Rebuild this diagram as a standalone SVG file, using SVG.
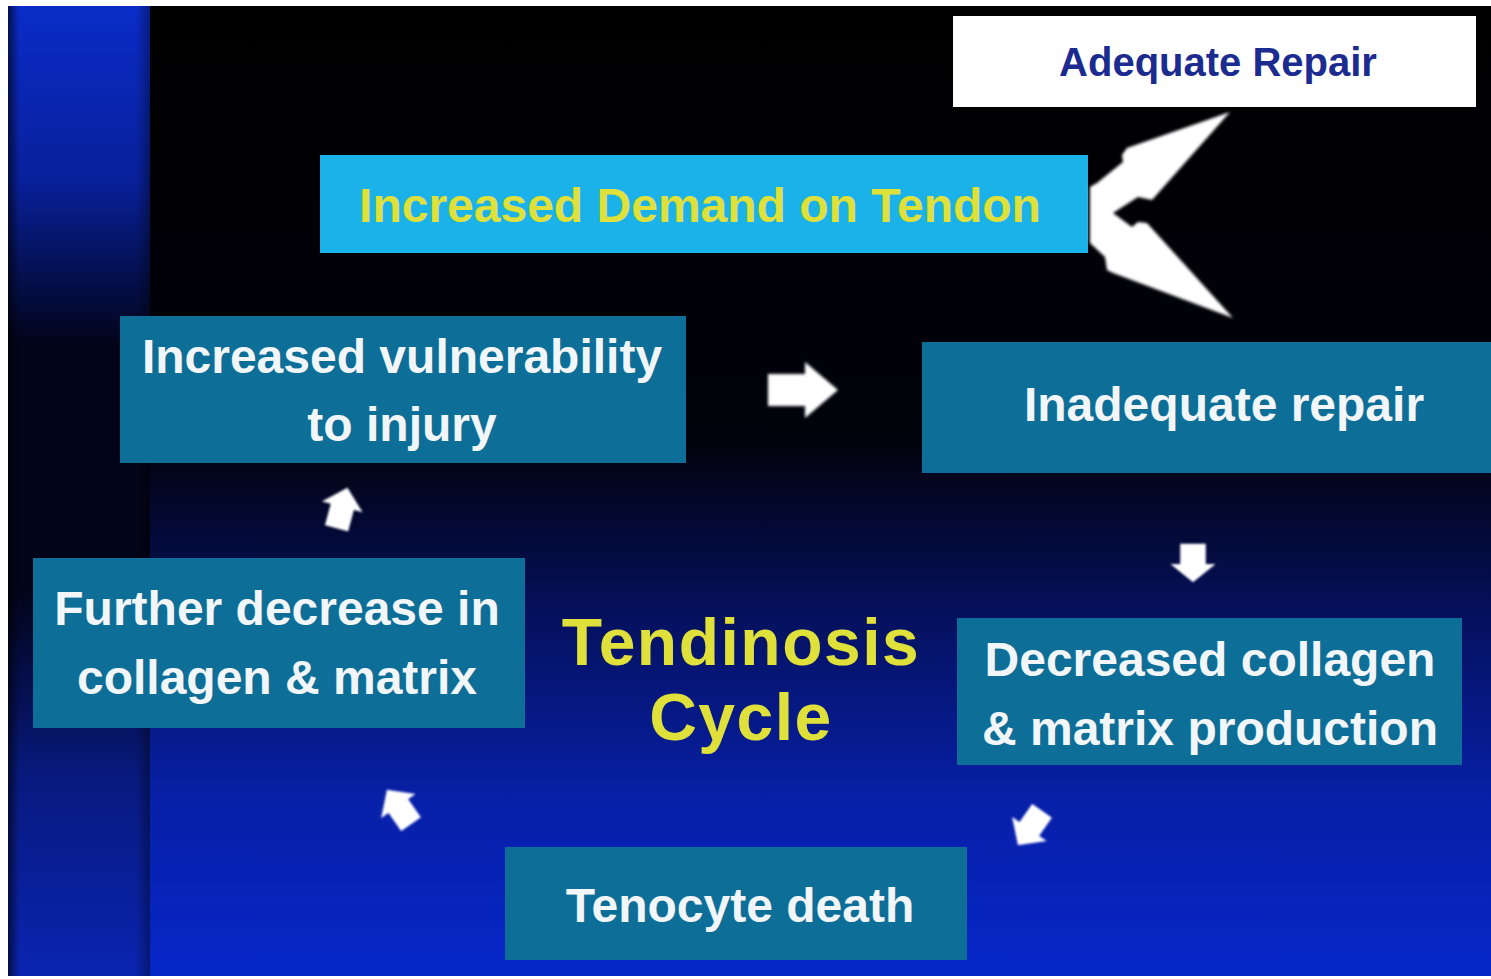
<svg xmlns="http://www.w3.org/2000/svg" width="1491" height="979" viewBox="0 0 1491 979">
  <defs>
    <linearGradient id="bgMain" x1="0" y1="0" x2="0" y2="1">
      <stop offset="0" stop-color="#000000"/>
      <stop offset="0.45" stop-color="#02020c"/>
      <stop offset="0.62" stop-color="#05105a"/>
      <stop offset="0.82" stop-color="#0720a8"/>
      <stop offset="1" stop-color="#0626c8"/>
    </linearGradient>
    <linearGradient id="bgStripe" x1="0" y1="0" x2="0" y2="1">
      <stop offset="0" stop-color="#0a2cc8"/>
      <stop offset="0.18" stop-color="#08209a"/>
      <stop offset="0.35" stop-color="#020418"/>
      <stop offset="0.6" stop-color="#020418"/>
      <stop offset="0.8" stop-color="#081a80"/>
      <stop offset="1" stop-color="#0a24b0"/>
    </linearGradient>
    <linearGradient id="stripeEdge" x1="0" y1="0" x2="1" y2="0">
      <stop offset="0" stop-color="#000000" stop-opacity="0.6"/>
      <stop offset="0.08" stop-color="#000000" stop-opacity="0"/>
      <stop offset="0.9" stop-color="#000000" stop-opacity="0"/>
      <stop offset="1" stop-color="#000000" stop-opacity="0.35"/>
    </linearGradient>
    <filter id="soft" x="-20%" y="-20%" width="140%" height="140%">
      <feGaussianBlur stdDeviation="1.6"/>
    </filter>
    <path id="blockArrow" d="M-35,-16 L2,-16 L2,-28 L35,0 L2,28 L2,16 L-35,16 Z"/>
  </defs>
  <style>
    .box { fill: #0d6e98; }
    .label { font-family: "Liberation Sans", Arial, sans-serif; font-weight: bold; fill: #f2f6f8; text-anchor: middle; }
    .big { font-size: 48px; }
    .yellow { fill: #e0e03a; }
    .title { font-size: 66px; letter-spacing: 1.5px; }
    .arrow { fill: #ffffff; filter: url(#soft); }
  </style>

  <!-- page margin and slide background -->
  <rect x="0" y="0" width="1491" height="979" fill="#ffffff"/>
  <rect x="8" y="6" width="1483" height="970" fill="url(#bgMain)"/>
  <rect x="8" y="6" width="142" height="970" fill="url(#bgStripe)"/>
  <rect x="8" y="6" width="142" height="970" fill="url(#stripeEdge)"/>

  <!-- nodes -->
  <g id="adequate-repair">
    <rect x="953" y="16" width="523" height="91" fill="#ffffff"/>
    <text class="label" x="1218" y="76" font-size="40" style="fill:#1b2b8f">Adequate Repair</text>
  </g>

  <g id="increased-demand">
    <rect x="320" y="155" width="768" height="98" fill="#1bb2ea"/>
    <text class="label big yellow" x="700" y="222">Increased Demand on Tendon</text>
  </g>

  <g id="increased-vulnerability">
    <rect class="box" x="120" y="316" width="566" height="147"/>
    <text class="label big" x="402" y="373">Increased vulnerability</text>
    <text class="label big" x="402" y="441">to injury</text>
  </g>

  <g id="inadequate-repair">
    <rect class="box" x="922" y="342" width="569" height="131"/>
    <text class="label big" x="1224" y="421">Inadequate repair</text>
  </g>

  <g id="decreased-collagen">
    <rect class="box" x="957" y="618" width="505" height="147"/>
    <text class="label big" x="1210" y="676">Decreased collagen</text>
    <text class="label big" x="1210" y="745">&amp; matrix production</text>
  </g>

  <g id="further-decrease">
    <rect class="box" x="33" y="558" width="492" height="170"/>
    <text class="label big" x="277" y="625">Further decrease in</text>
    <text class="label big" x="277" y="694">collagen &amp; matrix</text>
  </g>

  <g id="tenocyte-death">
    <rect class="box" x="505" y="847" width="462" height="113"/>
    <text class="label big" x="740" y="922">Tenocyte death</text>
  </g>

  <g id="cycle-title">
    <text class="label yellow title" x="741" y="665">Tendinosis</text>
    <text class="label yellow title" x="741" y="740">Cycle</text>
  </g>

  <!-- connectors -->
  <g id="connectors">
    <!-- forked arrow from the demand box to both repair outcomes -->
    <path class="arrow" d="M1230,112 L1127,148 L1122,155 L1123,162 L1097,183 L1090,187 L1090,243 L1105,257 L1107,270 L1113,273 L1233,318 L1147,223 L1138,222 L1132,227 L1113,213 L1138,197 L1152,200 Z"/>
    <use href="#blockArrow" class="arrow" transform="translate(803,390)"/>
    <use href="#blockArrow" class="arrow" transform="translate(1193,563) rotate(90) scale(0.55,0.8)"/>
    <use href="#blockArrow" class="arrow" transform="translate(1030,828) rotate(125) scale(0.6,0.75)"/>
    <use href="#blockArrow" class="arrow" transform="translate(399,807) rotate(-125) scale(0.6,0.75)"/>
    <use href="#blockArrow" class="arrow" transform="translate(342,508) rotate(-75) scale(0.6,0.75)"/>
  </g>
</svg>
